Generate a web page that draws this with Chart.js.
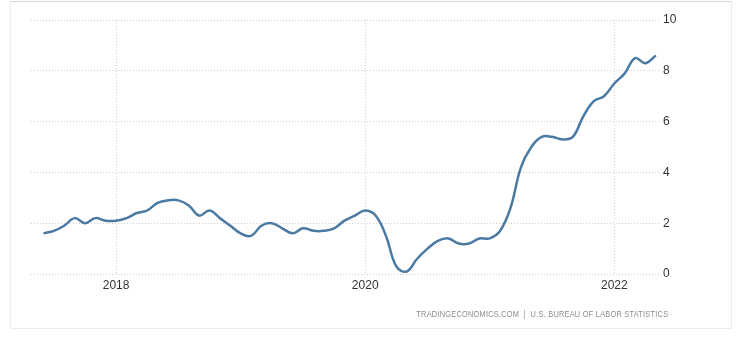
<!DOCTYPE html>
<html>
<head>
<meta charset="utf-8">
<script src="https://cdn.jsdelivr.net/npm/chart.js@4/dist/chart.umd.min.js"></script>
<style>
  html, body { margin: 0; padding: 0; background: #fff; }
  #wrap { position: relative; width: 740px; height: 345px; overflow: hidden; }
  #frame { position: absolute; left: 10px; top: 1px; width: 722px; height: 328px;
           border: 1px solid #ececec; border-top-color: #d6d6d6; box-sizing: border-box; }
  canvas { position: absolute; left: 0; top: 0; }
  #source { position: absolute; right: 72px; top: 309px;
            font: 9px "Liberation Sans", sans-serif; color: #8a8a8a;
            letter-spacing: 0.3px; white-space: nowrap;
            transform: scaleX(0.82); transform-origin: right center; }
</style>
</head>
<body>
<div id="wrap">
  <div id="frame"></div>
  <canvas id="line-chart" width="740" height="345"></canvas>
  <div id="source">TRADINGECONOMICS.COM&nbsp; | &nbsp;U.S. BUREAU OF LABOR STATISTICS</div>
</div>
<script>
// monthly, Jun 2017 .. May 2022
let months = ["2017-06","2017-07","2017-08","2017-09","2017-10","2017-11","2017-12",
  "2018-01","2018-02","2018-03","2018-04","2018-05","2018-06","2018-07","2018-08","2018-09","2018-10","2018-11","2018-12",
  "2019-01","2019-02","2019-03","2019-04","2019-05","2019-06","2019-07","2019-08","2019-09","2019-10","2019-11","2019-12",
  "2020-01","2020-02","2020-03","2020-04","2020-05","2020-06","2020-07","2020-08","2020-09","2020-10","2020-11","2020-12",
  "2021-01","2021-02","2021-03","2021-04","2021-05","2021-06","2021-07","2021-08","2021-09","2021-10","2021-11","2021-12",
  "2022-01","2022-02","2022-03","2022-04","2022-05"];

let inflation = [1.6, 1.7, 1.9, 2.2, 2.0, 2.2, 2.1,
  2.1, 2.2, 2.4, 2.5, 2.8, 2.9, 2.9, 2.7, 2.3, 2.5, 2.2, 1.9,
  1.6, 1.5, 1.9, 2.0, 1.8, 1.6, 1.8, 1.7, 1.7, 1.8, 2.1, 2.3,
  2.5, 2.3, 1.5, 0.3, 0.1, 0.6, 1.0, 1.3, 1.4, 1.2, 1.2, 1.4,
  1.4, 1.7, 2.6, 4.2, 5.0, 5.4, 5.4, 5.3, 5.4, 6.2, 6.8, 7.0,
  7.5, 7.9, 8.5, 8.3, 8.6];

let yearTicks = ["2018", "2020", "2022"];
let yTicks = [0, 2, 4, 6, 8, 10];

let tickFont = { family: "'Liberation Sans', sans-serif", size: 12 };
let gridStyle = { color: "#cfcfcf", lineWidth: 1, tickLength: 0 };

let points = inflation.map((v, i) => ({ x: i, y: v }));
let yearIdx = yearTicks.map(y => months.indexOf(y + "-01"));

let ctx = document.getElementById('line-chart').getContext('2d');

new Chart(ctx, {
    type: 'line',
    data: {
        datasets: [{
            data: points,
            borderColor: "#4a7aa3",
            borderWidth: 2.5,
            pointRadius: 0,
            tension: 0.4,
            fill: false
        }]
    },
    options: {
        responsive: false,
        animation: false,
        layout: { padding: { left: 31, top: 20, right: 0, bottom: 0 } },
        plugins: { legend: { display: false }, tooltip: { enabled: false } },
        scales: {
            x: {
                type: 'linear',
                min: -1.2,
                max: 59.4,
                afterBuildTicks: s => { s.ticks = yearIdx.map(v => ({ value: v })) },
                afterFit: s => { s.height = 71 },
                ticks: {
                    font: tickFont, color: "#333", padding: 4, maxRotation: 0, autoSkip: false,
                    callback: (v) => yearTicks[yearIdx.indexOf(v)]
                },
                grid: { ...gridStyle },
                border: { display: false, dash: [1, 2] }
            },
            y: {
                position: 'right',
                min: 0,
                max: 10,
                afterBuildTicks: s => { s.ticks = yTicks.map(v => ({ value: v })) },
                afterFit: s => { s.width = 80 },
                ticks: { font: tickFont, color: "#333", padding: 3 },
                grid: { ...gridStyle },
                border: { display: false, dash: [1, 2] }
            }
        }
    }
});
</script>
</body>
</html>
